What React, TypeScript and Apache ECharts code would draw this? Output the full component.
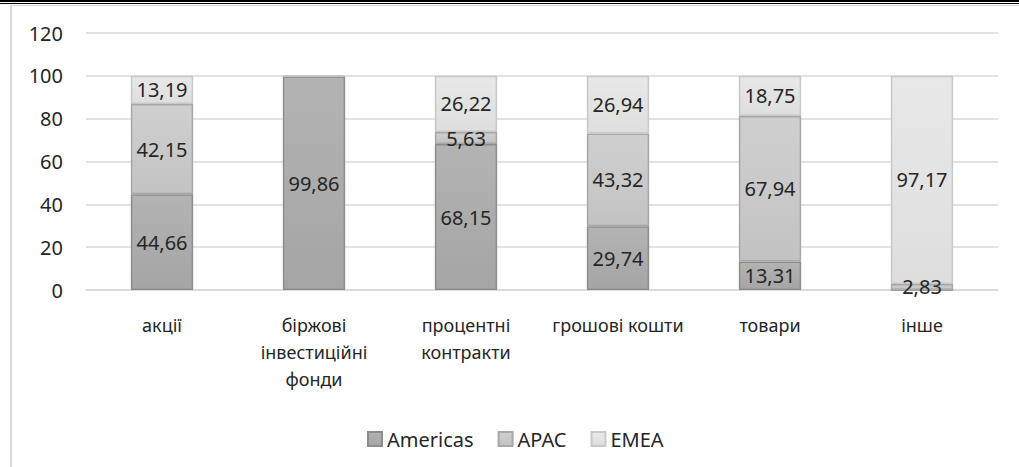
import React, { useEffect, useRef } from "react";
import * as echarts from "echarts";

const categories = ["акції", "біржові\nінвестиційні\nфонди", "процентні\nконтракти", "грошові кошти", "товари", "інше"];
const americas = [44.66, 99.86, 68.15, 29.74, 13.31, 0];
const apac = [42.15, 0, 5.63, 43.32, 67.94, 2.83];
const emea = [13.19, 0.14, 26.22, 26.94, 18.75, 97.17];
const yTicks = { min: 0, max: 120, interval: 20 };

const FONT = "Noto Sans";

function fill(top: string, bottom: string) {
  return new echarts.graphic.LinearGradient(0, 0, 0, 1, [
    { offset: 0, color: top },
    { offset: 1, color: bottom },
  ]);
}

export default function App() {
  const ref = useRef<HTMLDivElement>(null);
  useEffect(() => {
    if (!ref.current) return;
    const chart = echarts.init(ref.current, undefined, { renderer: "svg" });
    const label = {
      show: true,
      position: "inside" as const,
      color: "#262626",
      fontFamily: FONT,
      fontSize: 20,
      formatter: (p: any) => (p.value >= 1 ? String(p.value.toFixed(2)).replace(".", ",") : ""),
    };
    const mk = (name: string, data: number[], c1: string, c2: string, border: string) => ({
      name,
      type: "bar",
      stack: "total",
      data,
      barCategoryGap: "59%",
      itemStyle: { color: fill(c1, c2), borderColor: border, borderWidth: 1.5 },
      label,
      emphasis: { disabled: true },
    });
    chart.setOption({
      animation: false,
      backgroundColor: "#ffffff",
      textStyle: { fontFamily: FONT },
      grid: { left: 86, right: 21, top: 33, bottom: 177, containLabel: false },
      legend: {
        left: 362,
        top: 424,
        itemWidth: 14,
        itemHeight: 14,
        itemGap: 24,
        icon: "rect",
        textStyle: { fontFamily: FONT, fontSize: 20, color: "#262626" },
        data: ["Americas", "APAC", "EMEA"],
      },
      xAxis: {
        type: "category",
        data: categories,
        axisLine: { lineStyle: { color: "#d9d9d9", width: 1.5 } },
        axisTick: { show: false },
        axisLabel: {
          color: "#262626",
          fontFamily: FONT,
          fontSize: 18,
          margin: 21,
          lineHeight: 27,
          interval: 0,
        },
      },
      yAxis: {
        type: "value",
        min: yTicks.min,
        max: yTicks.max,
        interval: yTicks.interval,
        axisLine: { show: false },
        axisTick: { show: false },
        splitLine: { lineStyle: { color: "#d9d9d9", width: 1.5 } },
        axisLabel: { color: "#262626", fontFamily: FONT, fontSize: 20, margin: 23 },
      },
      series: [
        mk("Americas", americas, "#b3b3b3", "#a5a5a5", "#8c8c8c"),
        mk("APAC", apac, "#cfcfcf", "#c3c3c3", "#a8a8a8"),
        mk("EMEA", emea, "#e8e8e8", "#dedede", "#c8c8c8"),
      ],
      graphic: [
        { type: "rect", left: 0, top: 0, shape: { width: 1019, height: 2 }, style: { fill: "#000" }, z: 100 },
        { type: "rect", left: 0, top: 3, shape: { width: 1019, height: 1 }, style: { fill: "#000" }, z: 100 },
        { type: "rect", left: 10, top: 5, shape: { width: 1009, height: 1 }, style: { fill: "#d9d9d9" }, z: 100 },
        { type: "rect", left: 10, top: 5, shape: { width: 2, height: 462 }, style: { fill: "#d9d9d9" }, z: 100 },
      ],
    });
    return () => chart.dispose();
  }, []);
  return (
    <div
      ref={ref}
      style={{ position: "fixed", left: 0, top: 0, width: 1019, height: 467, background: "#fff" }}
    />
  );
}
